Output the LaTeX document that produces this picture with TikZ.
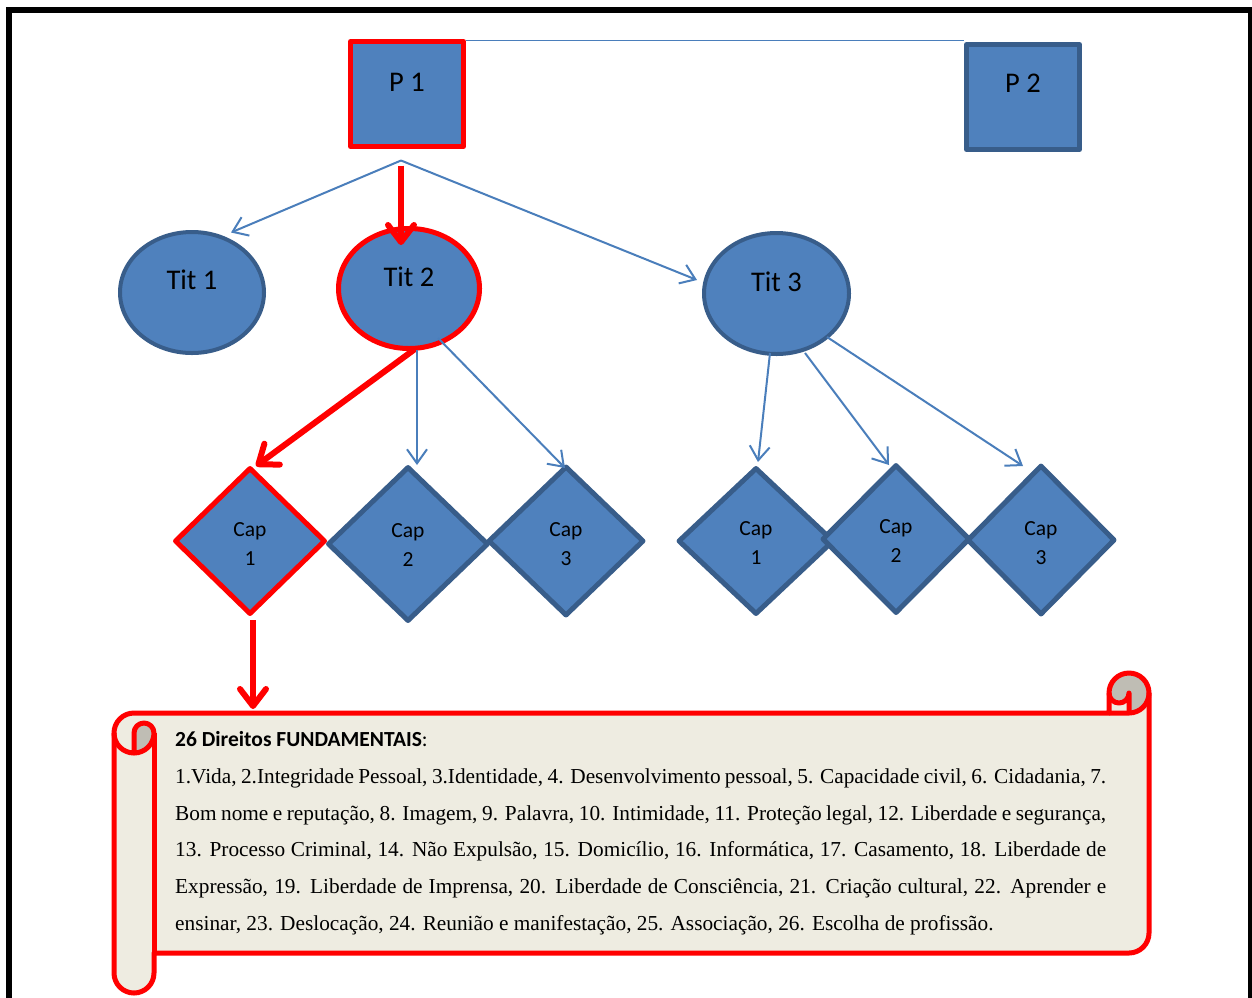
\documentclass[tikz,border=0pt]{standalone}
\usepackage{fontspec}
\usetikzlibrary{shapes.geometric,arrows.meta,calc,backgrounds}
\newfontfamily\calfont{Carlito}
\newfontfamily\timesfont{Liberation Serif}
\definecolor{shapefill}{HTML}{4F81BD}
\definecolor{shapeline}{HTML}{385D8A}
\definecolor{connblue}{HTML}{4A7EBB}
\definecolor{hot}{HTML}{FF0000}
\definecolor{paper}{HTML}{EEECE1}
\definecolor{paperdark}{HTML}{BFBDB4}
\begin{document}
\begin{tikzpicture}[x=1pt,y=-1pt,
  box/.style={rectangle,fill=shapefill,draw=shapeline,line width=5pt,line join=round,
    inner sep=0pt,minimum width=113pt,minimum height=105pt},
  oval/.style={ellipse,fill=shapefill,draw=shapeline,line width=4pt,inner sep=0pt},
  rhomb/.style={diamond,fill=shapefill,draw=shapeline,line width=5pt,line join=round,inner sep=0pt},
  hl/.style={draw=hot},
  titlefont/.style={font=\calfont\fontsize{28.5}{34}\selectfont,text=black},
  capfont/.style={font=\calfont\fontsize{21.5}{29}\selectfont,align=center,text=black},
  bluearrow/.style={draw=connblue,line width=2pt,-{Straight Barb[length=14pt,width=20pt]}},
  redarrow/.style={draw=hot,line width=6pt,-{Straight Barb[length=17pt,width=26pt,round]}},
  scrollline/.style={draw=hot,line width=5pt,line join=round},
]
\useasboundingbox (0,0) rectangle (1252,997);

% page frame (its lower edge runs off the page)
\begin{scope}
  \clip (0,0) rectangle (1252,997);
  \draw[line width=6pt] (9,10) rectangle (1251,1030);
\end{scope}

% top level
\node[box,hl,label={[titlefont,yshift=12pt]center:P 1}] (p1) at (407,94) {};
\node[box,label={[titlefont,yshift=14pt]center:P 2}] (p2) at (1023,97) {};
\begin{scope}[on background layer]
  \draw[connblue,line width=1.5pt] ($(p1.north east)+(0,1.5)$) -- ($(p2.north west)+(0,-1.5)$);
\end{scope}

% titles
\node[oval,minimum width=144pt,minimum height=121pt,label={[titlefont,yshift=12.5pt]center:Tit 1}] (tit1) at (192,292.5) {};
\node[oval,hl,line width=5pt,minimum width=141pt,minimum height=120pt,label={[titlefont,yshift=11.5pt]center:Tit 2}] (tit2) at (409,288.5) {};
\node[oval,minimum width=145pt,minimum height=121pt,label={[titlefont,yshift=11.5pt]center:Tit 3}] (tit3) at (776.5,293.5) {};

% chapters
\node[rhomb,hl,minimum width=151pt,minimum height=147pt,label={[capfont,yshift=-3.5pt]center:Cap\\1}] (capa) at (250,541) {};
\node[rhomb,minimum width=161pt,minimum height=155pt,label={[capfont,yshift=-1pt]center:Cap\\2}] (capb) at (408,544) {};
\node[rhomb,minimum width=156pt,minimum height=150pt,label={[capfont,yshift=-3.5pt]center:Cap\\3}] (capc) at (566,541) {};
\node[rhomb,minimum width=156pt,minimum height=147pt,label={[capfont,yshift=-2.5pt]center:Cap\\1}] (capd) at (756,541) {};
\node[rhomb,minimum width=148pt,minimum height=149pt,label={[capfont,yshift=-2pt]center:Cap\\2}] (cape) at (896,539) {};
\node[rhomb,minimum width=148pt,minimum height=150pt,label={[capfont,yshift=-3.5pt]center:Cap\\3}] (capf) at (1041,540) {};

% scroll: body
\fill[paper] (114,733) arc[start angle=180,end angle=270,radius=20] -- (1109,713) -- (1109,693)
  arc[start angle=180,end angle=360,radius=20] -- (1149,933)
  arc[start angle=0,end angle=90,radius=20] -- (154,953) -- (154,973)
  arc[start angle=0,end angle=180,radius=20] -- cycle;
% scroll: rolled ends
\fill[paperdark] (134,753) arc[start angle=90,end angle=0,radius=20]
  arc[start angle=0,end angle=-180,radius=10] -- cycle;
\fill[paperdark] (1129,713) arc[start angle=90,end angle=-180,radius=20]
  arc[start angle=180,end angle=0,radius=10] -- cycle;
% scroll: outlines
\draw[scrollline] (114,733) arc[start angle=180,end angle=270,radius=20] -- (1109,713) -- (1109,693)
  arc[start angle=180,end angle=360,radius=20] -- (1149,933)
  arc[start angle=0,end angle=90,radius=20] -- (154,953) -- (154,973)
  arc[start angle=0,end angle=180,radius=20] -- cycle;
\draw[scrollline] (1109,713) -- (1129,713) arc[start angle=90,end angle=0,radius=20];
\draw[scrollline] (1129,713) -- (1129,693) arc[start angle=0,end angle=180,radius=10];
\draw[scrollline] (134,753) -- (134,733) arc[start angle=180,end angle=360,radius=10]
  arc[start angle=0,end angle=180,radius=20];
\draw[scrollline] (154,733) -- (154,953);

% scroll text
\node[anchor=base west,inner sep=0pt,text=black] (txt) at (175,746.5) {\vtop{%
  \baselineskip=36.8pt
  \hbox{\calfont\fontsize{21.5}{24}\selectfont\textbf{26 Direitos FUNDAMENTAIS}:}
  \timesfont\fontsize{21.3}{36.8}\selectfont
  \hbox to 931pt{1.Vida, 2.Integridade Pessoal, 3.Identidade, 4. Desenvolvimento pessoal, 5. Capacidade civil, 6. Cidadania, 7.}
  \hbox to 931pt{Bom nome e reputação, 8. Imagem, 9. Palavra, 10. Intimidade, 11. Proteção legal, 12. Liberdade e segurança,}
  \hbox to 931pt{13. Processo Criminal, 14. Não Expulsão, 15. Domicílio, 16. Informática, 17. Casamento, 18. Liberdade de}
  \hbox to 931pt{Expressão, 19. Liberdade de Imprensa, 20. Liberdade de Consciência, 21. Criação cultural, 22. Aprender e}
  \hbox{ensinar, 23. Deslocação, 24. Reunião e manifestação, 25. Associação, 26. Escolha de profissão.}}};

% connectors
\coordinate (p1o) at ($(p1.south)+(-6,11.5)$);
\coordinate (scrolltop) at (253,709);
\draw[bluearrow] (p1o) -- ($(tit1.center)+(39,-60)$);
\draw[bluearrow] (p1o) -- ($(tit3.center)+(-79.5,-13.5)$);
\draw[redarrow] ($(p1o)+(0,5)$) -- ($(tit2.center)+(-8,-43.5)$);
\draw[redarrow] ($(tit2.center)+(6,60.5)$) -- ($(capa.center)+(6,-75)$);
\draw[bluearrow] ($(tit2.center)+(8,61.5)$) -- ($(capb.center)+(9,-79)$);
\draw[bluearrow] ($(tit2.center)+(29,49.5)$) -- ($(capc.center)+(-1,-73)$);
\draw[bluearrow] ($(tit3.center)+(-6.5,59.5)$) -- ($(capd.center)+(2,-79)$);
\draw[bluearrow] ($(tit3.center)+(28.5,59.5)$) -- ($(cape.center)+(-7,-74)$);
\draw[bluearrow] ($(tit3.center)+(50.5,43.5)$) -- ($(capf.center)+(-18,-74)$);
\draw[redarrow] ($(capa.center)+(3,79)$) -- (scrolltop);
\end{tikzpicture}
\end{document}
